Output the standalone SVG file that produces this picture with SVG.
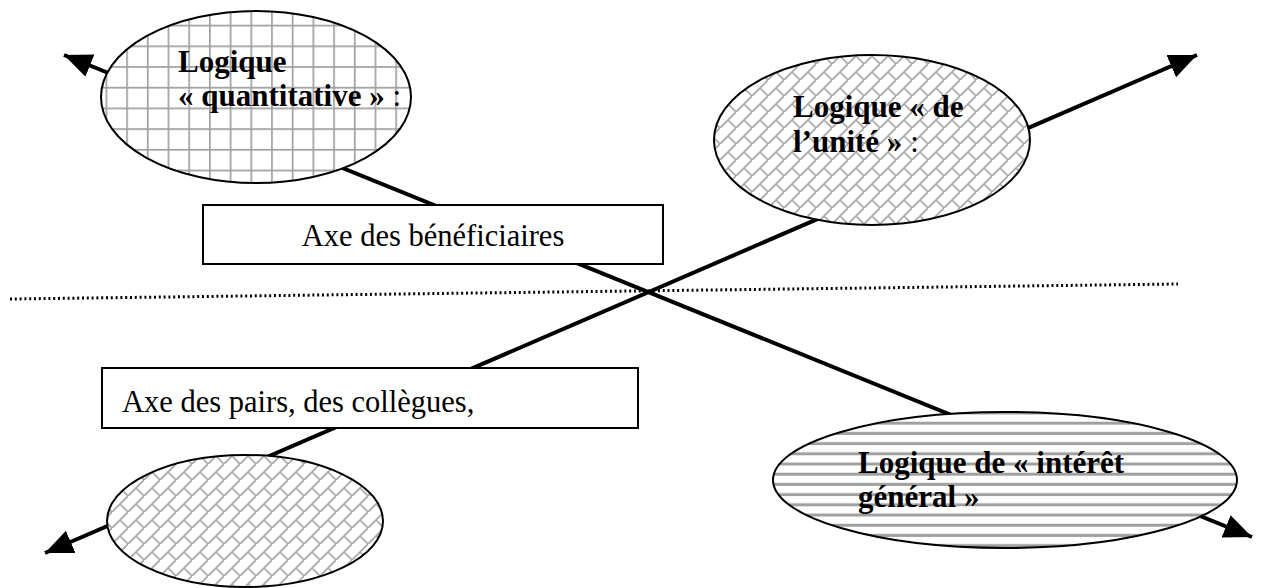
<svg xmlns="http://www.w3.org/2000/svg" width="1261" height="588" viewBox="0 0 1261 588">
<style>
text{font-family:"Liberation Serif","Times New Roman",serif;font-size:30.5px;fill:#000}
.b{font-weight:bold;font-size:31px}
.n{font-weight:normal}
.shape{stroke:#000;stroke-width:2}
.box{fill:#fff;stroke:#000;stroke-width:2}
.axis{stroke:#000;stroke-width:4;fill:none;marker-start:url(#ah);marker-end:url(#ah)}
.dots{stroke:#000;stroke-width:3;stroke-dasharray:2 2.8;fill:none}
</style>
<defs>
<marker id="ah" markerUnits="userSpaceOnUse" markerWidth="30" markerHeight="26" refX="28" refY="12" orient="auto-start-reverse">
<path d="M0,0 L28,12 L0,24 z" fill="#000"/>
</marker>
<pattern id="grid" patternUnits="userSpaceOnUse" width="20.7" height="20.7" x="2" y="4">
<rect width="20.7" height="20.7" fill="#fff"/>
<path d="M0,0.5 H20.7 M0.5,0 V20.7" stroke="#a0a0a0" stroke-width="2.4"/>
</pattern>
<pattern id="brick" patternUnits="userSpaceOnUse" width="16" height="16">
<rect width="16" height="16" fill="#fff"/>
<path d="M-2,18 L18,-2 M8,8 L16,16" stroke="#a8a8a8" stroke-width="1.7" fill="none"/>
</pattern>
<pattern id="hstripe" patternUnits="userSpaceOnUse" width="10" height="10.2">
<rect width="10" height="10.2" fill="#fff"/>
<path d="M0,5 H10" stroke="#a0a0a0" stroke-width="3"/>
</pattern>
</defs>
<g id="connectors">
<line class="axis" x1="1252" y1="537" x2="64" y2="55"/>
<line class="axis" x1="1197" y1="55" x2="45" y2="553"/>
<line class="dots" x1="10" y1="299" x2="1178" y2="284"/>
</g>
<g id="node-quantitative">
<ellipse class="shape" cx="256" cy="97" rx="155" ry="86" fill="url(#grid)"/>
<text class="b" x="178" y="72">Logique</text>
<text class="b" x="178" y="106">« quantitative » <tspan class="n">:</tspan></text>
</g>
<g id="node-unite">
<ellipse class="shape" cx="872" cy="140" rx="158" ry="85" fill="url(#brick)"/>
<text class="b" x="793" y="117">Logique « de</text>
<text class="b" x="793" y="152">l’unité » <tspan class="n">:</tspan></text>
</g>
<g id="node-bottom-left">
<ellipse class="shape" cx="245" cy="521" rx="138" ry="66" fill="url(#brick)"/>
</g>
<g id="node-interet">
<ellipse class="shape" cx="1005" cy="480" rx="232" ry="68" fill="url(#hstripe)"/>
<text class="b" x="858" y="473">Logique de « intérêt</text>
<text class="b" x="858" y="507">général »</text>
</g>
<g id="box-beneficiaires">
<rect class="box" x="203" y="205" width="460" height="59"/>
<text x="433" y="246" text-anchor="middle">Axe des bénéficiaires</text>
</g>
<g id="box-pairs">
<rect class="box" x="102" y="368" width="536" height="60"/>
<text x="122" y="412">Axe des pairs, des collègues,</text>
</g>
</svg>
